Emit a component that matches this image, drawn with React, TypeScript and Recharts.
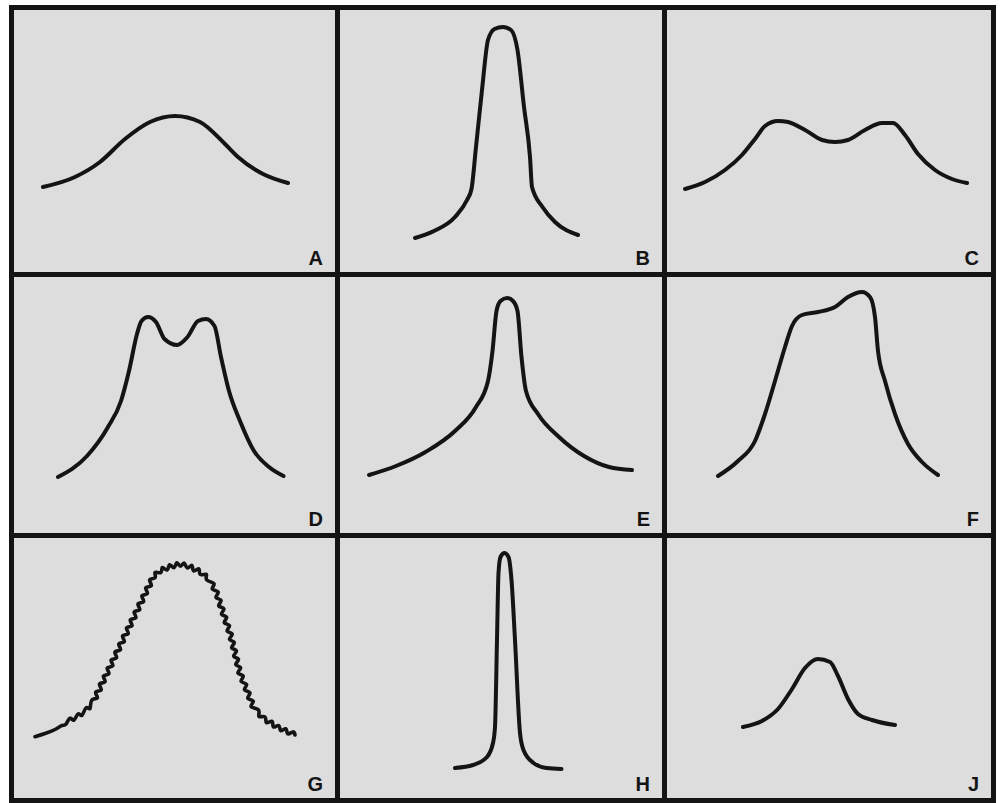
import { LineChart, Line, XAxis, YAxis } from 'recharts';

// readings per panel: [position, level], measured from each panel's bottom-left
const curveA = [
  [29, 85], [61, 95], [86, 110], [111, 133], [136, 150], [161, 156],
  [186, 150], [211, 128], [224, 115], [249, 98], [274, 89],
];

const curveB = [
  [75, 34], [94, 41], [115, 55], [127, 72], [131.5, 83], [136, 125],
  [142, 182], [148, 232], [154.5, 243], [163, 245], [171, 242], [177.5, 222],
  [184, 165], [190, 115], [192, 85], [202.5, 65], [215, 50], [238, 37],
];

const curveC = [
  [18, 83], [38, 90], [58, 102], [75, 117], [88, 133], [98, 146], [111, 151],
  [121, 150], [138, 142], [155, 132], [168, 130], [181, 132], [198, 142],
  [215, 149], [226, 149], [238, 137], [251, 118], [268, 102], [285, 93], [300, 89],
];

const curveD = [
  [44, 56], [73, 77], [94, 106], [107, 132], [115, 162], [123, 199],
  [127.5, 212], [134, 216], [142, 211], [150.5, 194], [163, 188], [173.5, 196],
  [184, 212], [192, 214], [200.5, 207], [207, 176], [215, 142], [226, 112],
  [240, 82], [255, 66], [269.5, 57],
];

const curveE = [
  [29, 58], [56, 67], [85.5, 81], [115, 102], [136, 126], [148, 152],
  [152.5, 182], [156.5, 222], [160.5, 232], [167, 235], [173, 232],
  [177.5, 222], [181.5, 176], [186, 142], [198, 119], [219, 96], [244, 77],
  [269, 66], [292, 63],
];

const curveF = [
  [51, 57], [71, 72], [88, 92], [98, 119], [108, 152], [118, 186], [125, 207],
  [135, 218], [151, 221], [168, 226], [181, 236], [195, 241], [203, 236],
  [208, 216], [211, 182], [218, 152], [228, 119], [241, 89], [255, 71], [271, 58],
];

const curveG = [
  [21, 61.3], [31, 64.5], [41, 68.5], [48, 72.5], [52, 73.8], [56, 79.9],
  [60, 77.9], [64, 84], [68, 82.7], [72, 90.1], [76, 89.5],
  [77.8, 97.9], [83.4, 100.1], [81.7, 105.9], [87.2, 108.1], [85.5, 114],
  [91.1, 116.2], [89.4, 122], [94.9, 124.2], [93.2, 130], [98.8, 132.2],
  [97.1, 138], [102.6, 140.2], [100.9, 146], [106.5, 148.2], [104.8, 154],
  [110.3, 156.3], [108.6, 162.1], [114.2, 164.3], [112.5, 170.1], [118, 172.3],
  [116.3, 178.1], [121.9, 180.3], [120.2, 186.1], [125.7, 188.3], [124, 194.1],
  [129.6, 196.4], [127.9, 202.2], [133.4, 204.4], [131.7, 210.2], [137.3, 212.4],
  [135.6, 218.2], [141.1, 220.4],
  [141.1, 225.6], [146.9, 225.5], [148.3, 230.4], [153.2, 228], [155.5, 233.2],
  [160, 230.3], [162.8, 235.2], [166.5, 231.9], [170.2, 234.9], [173.3, 230],
  [177.9, 232.6], [179.6, 227.2], [184.9, 229.1], [186.2, 223.6], [192.3, 223.7],
  [192.7, 218.2],
  [200, 214.4], [198.3, 209], [204.2, 206], [202, 200.6], [207.1, 197.6],
  [204.7, 192.2], [209.9, 189.2], [207.5, 183.8], [212.7, 180.8], [210.3, 175.4],
  [215.5, 172.4], [213.1, 167], [218.2, 164], [215.5, 158.6], [220.3, 155.6],
  [217.6, 150.2], [222.4, 147.2], [219.7, 141.8], [224.5, 138.8], [221.8, 133.4],
  [226.6, 130.4], [223.9, 125], [229.2, 122], [227.1, 116.6], [232.6, 113.6],
  [230.5, 108.2], [236, 105.2], [233.8, 99.8], [239.3, 96.8], [237.1, 91.4],
  [244.5, 88], [245, 81.6], [251.1, 81], [252.4, 75.3], [258.1, 76.6],
  [259.4, 71], [264.8, 72.5], [266.7, 67.3], [271.8, 69.3], [273.7, 64.1],
  [278.8, 66.1], [281, 63],
];

const curveH = [
  [115, 30], [133, 33], [147, 41], [153, 55], [155, 71], [157, 158],
  [158.5, 225], [160.5, 241], [164.5, 245], [168.5, 241], [171.5, 218],
  [175, 158], [180, 65], [183.5, 48], [193.5, 35], [206.5, 30], [221.5, 29],
];

const curveJ = [
  [76, 71], [95, 77], [111, 89], [125, 109], [138, 130], [151, 139],
  [163, 136], [171, 122], [181, 99], [191, 84], [205, 78], [228, 73],
];

const labels = ['A', 'B', 'C', 'D', 'E', 'F', 'G', 'H', 'J'];
const curves = [curveA, curveB, curveC, curveD, curveE, curveF, curveG, curveH, curveJ];

const COL_W = [321, 322, 324];
const ROW_H = [262, 256, 260];
const RULE = 5;
const INK = '#141414';

function Panel({ label, points, w, h }: any) {
  const data = points.map(([x, y]: number[]) => ({ x, y }));
  const wavy = label === 'G';
  return (
    <div style={{ position: 'relative', width: w, height: h, background: '#dddddd' }}>
      <LineChart width={w} height={h} data={data} margin={{ top: 0, right: 0, bottom: 0, left: 0 }}>
        <XAxis type="number" dataKey="x" domain={[0, w]} hide />
        <YAxis type="number" domain={[0, h]} hide />
        <Line
          dataKey="y"
          type={wavy ? 'natural' : 'monotone'}
          stroke={INK}
          strokeWidth={wavy ? 3.6 : 4}
          strokeLinecap="round"
          strokeLinejoin="round"
          dot={false}
          isAnimationActive={false}
        />
      </LineChart>
      <div
        style={{
          position: 'absolute',
          right: 12,
          bottom: 4,
          fontFamily: '"Liberation Sans", Arial, sans-serif',
          fontWeight: 700,
          fontSize: 20,
          lineHeight: 1,
          color: INK,
        }}
      >
        {label}
      </div>
    </div>
  );
}

export default function App() {
  return (
    <div
      style={{
        position: 'absolute',
        left: 9,
        top: 5,
        display: 'grid',
        gridTemplateColumns: COL_W.map((c) => `${c}px`).join(' '),
        gridTemplateRows: ROW_H.map((r) => `${r}px`).join(' '),
        gap: RULE,
        padding: RULE,
        background: INK,
      }}
    >
      {labels.map((label, i) => (
        <Panel
          key={label}
          label={label}
          points={curves[i]}
          w={COL_W[i % 3]}
          h={ROW_H[Math.floor(i / 3)]}
        />
      ))}
    </div>
  );
}
